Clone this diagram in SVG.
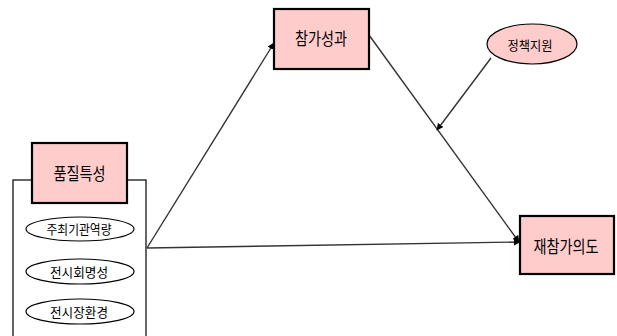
<svg xmlns="http://www.w3.org/2000/svg" width="617" height="336" viewBox="0 0 617 336">
<defs>
<style>
.box{fill:#ffcccc;stroke:#000;stroke-width:2.2}
.ell{fill:#fff;stroke:#000;stroke-width:1.2}
.ellp{fill:#ffcccc;stroke:#000;stroke-width:1.2}
.frame{fill:none;stroke:#000;stroke-width:1.2}
.lbl{font-family:"Noto Sans CJK KR","Noto Sans",sans-serif;font-size:17px;fill:#000;text-anchor:middle}
.sm{font-family:"Noto Sans CJK KR","Noto Sans",sans-serif;font-size:13px;fill:#000;text-anchor:middle}
.ln{stroke:#333;stroke-width:1.4;fill:none}
</style>
<marker id="ah" viewBox="0 0 10 10" refX="9" refY="5" markerWidth="7" markerHeight="7" orient="auto" markerUnits="userSpaceOnUse">
<path d="M0,0 L10,5 L0,10 z" fill="#000"/>
</marker>
</defs>
<rect width="617" height="336" fill="#fff"/>
<g id="connectors">
<line class="ln" x1="147" y1="248" x2="274" y2="43" marker-end="url(#ah)"/>
<line class="ln" x1="147" y1="248" x2="520" y2="242" marker-end="url(#ah)"/>
<line class="ln" x1="369" y1="35" x2="519" y2="242" marker-end="url(#ah)"/>
<line class="ln" x1="491" y1="58" x2="437" y2="130" marker-end="url(#ah)"/>
</g>
<g id="quality-group">
<rect class="frame" x="13" y="180" width="133" height="170"/>
</g>
<g id="node-quality">
<rect class="box" x="32" y="143" width="95" height="60"/>
<text class="lbl" x="79.5" y="180" textLength="52" lengthAdjust="spacingAndGlyphs">품질특성</text>
</g>
<g id="node-host">
<ellipse class="ell" cx="80" cy="229" rx="54" ry="12"/>
<text class="sm" x="79" y="234" textLength="65" lengthAdjust="spacingAndGlyphs">주최기관역량</text>
</g>
<g id="node-reputation">
<ellipse class="ell" cx="80" cy="271.5" rx="54" ry="12.5"/>
<text class="sm" x="79" y="276.5" textLength="58" lengthAdjust="spacingAndGlyphs">전시회명성</text>
</g>
<g id="node-venue">
<ellipse class="ell" cx="80" cy="311.5" rx="54" ry="12.5"/>
<text class="sm" x="79" y="316.5" textLength="58" lengthAdjust="spacingAndGlyphs">전시장환경</text>
</g>
<g id="node-performance">
<rect class="box" x="274" y="9" width="95" height="60"/>
<text class="lbl" x="321" y="45" textLength="52" lengthAdjust="spacingAndGlyphs">참가성과</text>
</g>
<g id="node-policy">
<ellipse class="ellp" cx="532" cy="44" rx="45" ry="20"/>
<text class="sm" x="530" y="50" textLength="45" lengthAdjust="spacingAndGlyphs">정책지원</text>
</g>
<g id="node-intention">
<rect class="box" x="520" y="216" width="94" height="58"/>
<text class="lbl" x="566" y="252.5" textLength="65" lengthAdjust="spacingAndGlyphs">재참가의도</text>
</g>
</svg>
